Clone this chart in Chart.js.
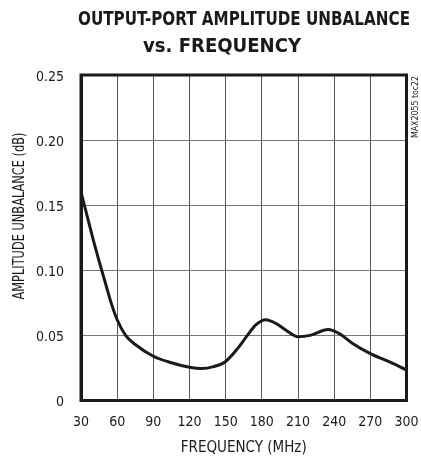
<!DOCTYPE html>
<html>
<head>
<meta charset="utf-8">
<script src="https://cdn.jsdelivr.net/npm/chart.js@4.4.1/dist/chart.umd.min.js"></script>
<style>
  html, body { margin: 0; padding: 0; background: #fff; }
</style>
</head>
<body>
<canvas id="unbalance" width="421" height="457"></canvas>
<script>
const freq = [30, 35, 40, 45, 50, 55, 60, 67, 75, 90, 105, 120, 130, 140, 150, 160, 168, 175, 183, 192, 200, 210, 220, 235, 245, 255, 270, 285, 300];
const unbalance = [0.160, 0.142, 0.124, 0.107, 0.091, 0.075, 0.062, 0.050, 0.043, 0.034, 0.029, 0.0255, 0.0245, 0.026, 0.030, 0.040, 0.050, 0.058, 0.062, 0.059, 0.054, 0.049, 0.050, 0.0545, 0.051, 0.044, 0.036, 0.030, 0.0235];
const xTicks = [30, 60, 90, 120, 150, 180, 210, 240, 270, 300];
const yTicks = [0, 0.05, 0.10, 0.15, 0.20, 0.25];
const titleLines = ['OUTPUT-PORT AMPLITUDE UNBALANCE', 'vs. FREQUENCY'];
const yTitle = 'AMPLITUDE UNBALANCE (dB)';
const xTitle = 'FREQUENCY (MHz)';
const sideNote = 'MAX2055 toc22';

const FONT = "'DejaVu Sans Condensed', 'Liberation Sans', sans-serif";
const INK = '#1a1a1a';

// text squeezed horizontally to mimic the narrow face of the original
function narrowText(ctx, text, x, y, width) {
  ctx.save();
  ctx.translate(x, y);
  ctx.scale(width / ctx.measureText(text).width, 1);
  ctx.fillText(text, 0, 0);
  ctx.restore();
}

const extras = {
  id: 'extras',
  afterDraw(chart) {
    const { ctx, chartArea: a } = chart;
    ctx.save();
    ctx.strokeStyle = INK;
    ctx.lineWidth = 3;
    ctx.strokeRect(a.left, a.top, a.right - a.left, a.bottom - a.top);

    ctx.fillStyle = INK;
    ctx.textAlign = 'center';
    ctx.textBaseline = 'middle';
    ctx.font = 'bold 19px ' + FONT;
    narrowText(ctx, titleLines[0], 244, 20, 332);
    narrowText(ctx, titleLines[1], 222, 47, 158);

    ctx.save();
    ctx.translate(20, 216);
    ctx.rotate(-Math.PI / 2);
    ctx.font = '15px ' + FONT;
    narrowText(ctx, yTitle, 0, 0, 167);
    ctx.restore();

    ctx.save();
    ctx.translate(416, 107);
    ctx.rotate(-Math.PI / 2);
    ctx.font = '9px ' + FONT;
    narrowText(ctx, sideNote, 0, 0, 62);
    ctx.restore();
    ctx.restore();
  }
};

new Chart(document.getElementById('unbalance'), {
  type: 'line',
  data: {
    datasets: [{
      data: freq.map((f, i) => ({ x: f, y: unbalance[i] })),
      borderColor: INK,
      borderWidth: 3,
      pointRadius: 0,
      fill: false,
      cubicInterpolationMode: 'monotone'
    }]
  },
  options: {
    responsive: false,
    devicePixelRatio: 1,
    animation: false,
    layout: { padding: { left: 0, right: 14.5, top: 75, bottom: 0 } },
    plugins: { legend: { display: false }, tooltip: { enabled: false } },
    scales: {
      x: {
        type: 'linear',
        min: 30,
        max: 300,
        afterBuildTicks: s => { s.ticks = xTicks.map(v => ({ value: v })); },
        afterFit: s => { s.height = 56.5; s.paddingLeft = 0; s.paddingRight = 0; },
        grid: { color: '#555', lineWidth: 1, drawTicks: false },
        border: { color: INK, width: 3 },
        ticks: { color: INK, padding: 13, maxRotation: 0, font: { family: FONT, size: 14 } },
        title: { display: true, text: xTitle, color: INK, padding: { top: 0, bottom: 0 }, font: { family: FONT, size: 15 } }
      },
      y: {
        min: 0,
        max: 0.25,
        afterBuildTicks: s => { s.ticks = yTicks.map(v => ({ value: v })); },
        afterFit: s => { s.width = 81; s.paddingTop = 0; s.paddingBottom = 0; },
        grid: { color: '#777', lineWidth: 1, drawTicks: false },
        border: { color: INK, width: 3 },
        ticks: {
          color: INK,
          padding: 17,
          labelOffset: 2,
          font: { family: FONT, size: 14 },
          callback: v => (v === 0 ? '0' : v.toFixed(2))
        }
      }
    }
  },
  plugins: [extras]
});
</script>
</body>
</html>
